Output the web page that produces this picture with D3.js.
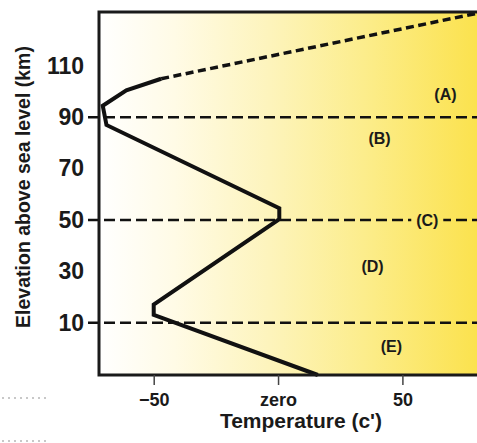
<!DOCTYPE html>
<html>
<head>
<meta charset="utf-8">
<script src="https://cdn.jsdelivr.net/npm/d3@7"></script>
<style>
  body { margin: 0; background: #fff; }
  svg { display: block; font-family: "Liberation Sans", Arial, Helvetica, sans-serif; }
</style>
</head>
<body>
<div id="viz"></div>
<script>
const width = 477
const height = 443
const plot = {left: 99, right: 477, top: 12, bottom: 375}

// temperature profile (deg C, km)
const profileTemp = [16, -50, -50, 0.5, 0.5, -69, -70.5, -61, -47]
const profileElev = [-10.4, 13, 17, 50.3, 54.6, 87, 94.5, 100.5, 105]
// dashed upper part (thermosphere)
const upperTemp = [-47, 80]
const upperElev = [105, 130.5]

const boundaryElev = [90, 50, 10]
const yTicks = [10, 30, 50, 70, 90, 110]
const xTicks = [-50, 0, 50]
const xTickLabels = ["\u221250", "zero", "50"]

const layerNames = ["(A)", "(B)", "(C)", "(D)", "(E)"]
const layerTemp = [67.3, 40.8, 60, 38, 45.6]
const layerElev = [98.9, 81.8, 50, 32, 0.9]

const x = d3.scaleLinear().domain([-72, 80]).range([plot.left, plot.right])
const y = d3.scaleLinear().domain([-10.4, 131]).range([plot.bottom, plot.top])

const svg = d3.select("#viz").append("svg")
  .attr("width", width)
  .attr("height", height)

// white -> yellow background
const grad = svg.append("defs").append("linearGradient")
  .attr("id", "bg")
  .attr("gradientUnits", "userSpaceOnUse")
  .attr("x1", plot.left).attr("x2", plot.right)
  .attr("y1", 0).attr("y2", 0)
grad.selectAll("stop")
  .data([[0, "#ffffff"], [0.2, "#fffbe6"], [0.45, "#fdf4bc"], [0.7, "#fced8c"], [1, "#fbe24e"]])
  .enter().append("stop")
  .attr("offset", d => d[0])
  .attr("stop-color", d => d[1])

svg.append("rect")
  .attr("x", plot.left).attr("y", plot.top)
  .attr("width", plot.right - plot.left)
  .attr("height", plot.bottom - plot.top)
  .attr("fill", "url(#bg)")

// layer boundaries
svg.selectAll(".boundary")
  .data(boundaryElev)
  .enter().append("line")
  .attr("class", "boundary")
  .attr("x1", plot.left - 11)
  .attr("x2", plot.right)
  .attr("y1", d => y(d))
  .attr("y2", d => y(d))
  .attr("stroke", "#111")
  .attr("stroke-width", 2.5)
  .attr("stroke-dasharray", "11,5")

// profile
const pts = profileTemp.map((t, i) => [t, profileElev[i]])
const upts = upperTemp.map((t, i) => [t, upperElev[i]])
const line = d3.line().x(d => x(d[0])).y(d => y(d[1]))

svg.append("path")
  .attr("d", line(upts))
  .attr("fill", "none")
  .attr("stroke", "#111")
  .attr("stroke-width", 3.5)
  .attr("stroke-dasharray", "8,4.5")

svg.append("path")
  .attr("d", line(pts))
  .attr("fill", "none")
  .attr("stroke", "#111")
  .attr("stroke-width", 4)
  .attr("stroke-linejoin", "miter")

// layer labels; a patch of background hides the boundary line under them
svg.selectAll(".layer-bg")
  .data(layerNames)
  .enter().append("rect")
  .attr("class", "layer-bg")
  .attr("x", (d, i) => x(layerTemp[i]) - 16)
  .attr("y", (d, i) => y(layerElev[i]) - 8)
  .attr("width", 32)
  .attr("height", 16)
  .attr("fill", "url(#bg)")

svg.selectAll(".layer")
  .data(layerNames)
  .enter().append("text")
  .attr("class", "layer")
  .text(d => d)
  .attr("x", (d, i) => x(layerTemp[i]))
  .attr("y", (d, i) => y(layerElev[i]))
  .attr("text-anchor", "middle")
  .attr("dy", "0.36em")
  .attr("font-size", 16)
  .attr("font-weight", "bold")
  .attr("fill", "#1a1a1a")

// frame: left, top, bottom
svg.append("path")
  .attr("d", "M" + plot.right + "," + plot.top + "H" + plot.left + "V" + plot.bottom + "H" + plot.right)
  .attr("fill", "none")
  .attr("stroke", "#1a1a1a")
  .attr("stroke-width", 3)

// y axis
const yAxisG = svg.append("g")
  .attr("transform", "translate(" + plot.left + ",0)")
  .call(d3.axisLeft(y).tickValues(yTicks).tickSize(0).tickPadding(15))
yAxisG.select(".domain").remove()
yAxisG.selectAll("text")
  .attr("font-size", 23)
  .attr("font-weight", "bold")
  .attr("fill", "#1a1a1a")
  .attr("font-family", "Liberation Sans, Arial, sans-serif")

// y label
svg.append("text")
  .text("Elevation above sea level (km)")
  .attr("transform", "translate(30,187) rotate(-90)")
  .attr("text-anchor", "middle")
  .attr("font-size", 19.5)
  .attr("font-weight", "bold")
  .attr("fill", "#1a1a1a")

// x axis
const xAxisG = svg.append("g")
  .attr("transform", "translate(0," + plot.bottom + ")")
  .call(d3.axisBottom(x).tickValues(xTicks).tickSize(10).tickPadding(8)
    .tickFormat((d, i) => xTickLabels[i]))
xAxisG.select(".domain").remove()
xAxisG.selectAll("line")
  .attr("stroke", "#444")
  .attr("stroke-width", 1.5)
xAxisG.selectAll("text")
  .attr("font-size", 18)
  .attr("font-weight", "bold")
  .attr("fill", "#1a1a1a")
  .attr("font-family", "Liberation Sans, Arial, sans-serif")

// x label
svg.append("text")
  .text("Temperature (c')")
  .attr("x", 301)
  .attr("y", 428)
  .attr("text-anchor", "middle")
  .attr("font-size", 21)
  .attr("font-weight", "bold")
  .attr("fill", "#1a1a1a")

// faint dotted marks at the bottom left
svg.selectAll(".dots")
  .data([398, 441])
  .enter().append("line")
  .attr("x1", 2).attr("x2", 48)
  .attr("y1", d => d).attr("y2", d => d)
  .attr("stroke", "#c8c8c8")
  .attr("stroke-width", 2)
  .attr("stroke-dasharray", "2,4")
</script>
</body>
</html>
